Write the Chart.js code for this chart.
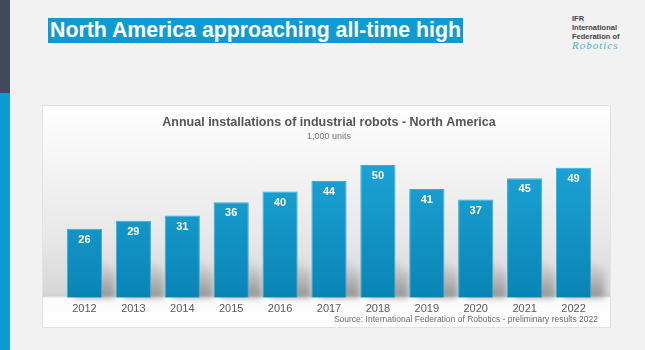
<!DOCTYPE html>
<html>
<head>
<meta charset="utf-8">
<script src="https://cdn.jsdelivr.net/npm/chart.js@4"></script>
<style>
  body { margin: 0; width: 645px; height: 350px; background: #f2f2f2; position: relative; overflow: hidden; font-family: "Liberation Sans", Arial, sans-serif; }
  #bar-dark { position: absolute; left: 0; top: 0; width: 10px; height: 93px; background: #3e4a5b; }
  #bar-blue { position: absolute; left: 0; top: 93px; width: 10px; height: 257px; background: #0e9bcf; }
  #headline { position: absolute; left: 48px; top: 18px; height: 25px; line-height: 25px; padding: 0 2px; background: #0f9bcf; color: #fff; font-weight: bold; font-size: 21.3px; white-space: nowrap; }
  #logo { position: absolute; left: 572px; top: 14px; font-size: 7.5px; line-height: 9px; font-weight: bold; color: #444; }
  #logo .rob { font-family: "Liberation Serif", serif; font-style: italic; font-weight: normal; font-size: 11px; color: #4bb3cc; letter-spacing: 1px; }
  #panel { position: absolute; left: 43px; top: 106px; width: 567px; height: 221px; box-shadow: 0 0 0 1px #e2e2e2;
    background: linear-gradient(to bottom, #ffffff 0px, #f6f6f6 50px, #e8e8e8 130px, #d8d8d8 185px, #d0d0d0 190px, #fbfbfb 192px, #ffffff 221px); }
  #panel canvas { display: block; }
  #source { position: absolute; right: 12px; top: 208px; font-size: 8.5px; color: #6a6a6a; white-space: nowrap; }
</style>
</head>
<body>
<div id="bar-dark"></div>
<div id="bar-blue"></div>
<div id="headline">North America approaching all-time high</div>
<div id="logo">IFR<br>International<br>Federation of<br><span class="rob">Robotics</span></div>
<div id="panel">
  <canvas id="chart" width="567" height="221"></canvas>
</div>
<script>
const years = ['2012', '2013', '2014', '2015', '2016', '2017', '2018', '2019', '2020', '2021', '2022'];
const installs = [26, 29, 31, 36, 40, 44, 50, 41, 37, 45, 49];

const panel = document.querySelector('#panel');
const source = document.createElement('div');
source.id = 'source';
source.textContent = 'Source: International Federation of Robotics - preliminary results 2022';

const barShadows = {
    id: 'barShadows',
    beforeDatasetsDraw(chart) {
        const ctx = chart.ctx;
        const base = chart.scales.y.getPixelForValue(0);
        chart.getDatasetMeta(0).data.forEach(bar => {
            const right = bar.x + bar.width / 2;
            const left = bar.x - bar.width / 2;
            const g = ctx.createLinearGradient(0, base - 40, 0, base);
            g.addColorStop(0, 'rgba(120,120,120,0)');
            g.addColorStop(1, 'rgba(100,100,100,0.6)');
            ctx.save();
            ctx.filter = 'blur(3px)';
            ctx.fillStyle = g;
            ctx.beginPath();
            ctx.moveTo(left + 8, base);
            ctx.lineTo(right + 13, base);
            ctx.lineTo(right + 13, base - 26);
            ctx.lineTo(right, base - 38);
            ctx.lineTo(left + 8, base - 38);
            ctx.closePath();
            ctx.fill();
            ctx.restore();
        });
    }
};

const valueLabels = {
    id: 'valueLabels',
    afterDatasetsDraw(chart) {
        const ctx = chart.ctx;
        ctx.save();
        ctx.fillStyle = '#ffffff';
        ctx.font = 'bold 11px "Liberation Sans", Arial, sans-serif';
        ctx.textAlign = 'center';
        ctx.textBaseline = 'middle';
        chart.getDatasetMeta(0).data.forEach((bar, i) => {
            ctx.fillText(installs[i], bar.x, bar.y + 11);
        });
        ctx.restore();
    }
};

new Chart(document.querySelector('#chart').getContext('2d'), {
    type: 'bar',
    data: {
        labels: years,
        datasets: [{
            data: installs,
            backgroundColor: ctx => {
                const area = ctx.chart.chartArea;
                if (!area) return '#0e9bcf';
                const g = ctx.chart.ctx.createLinearGradient(0, area.top, 0, area.bottom);
                g.addColorStop(0, '#1ea5d8');
                g.addColorStop(1, '#0985b5');
                return g;
            },
            borderColor: '#3aaed9',
            borderWidth: 1,
            barPercentage: 0.72,
            categoryPercentage: 1
        }]
    },
    options: {
        responsive: false,
        animation: false,
        layout: { padding: { left: 17, right: 12, top: 0, bottom: 6 } },
        plugins: {
            legend: { display: false },
            tooltip: { enabled: false },
            title: {
                display: true,
                text: 'Annual installations of industrial robots - North America',
                color: '#555555',
                font: { family: '"Liberation Sans", Arial, sans-serif', size: 12.5, weight: 'bold' },
                padding: { top: 9, bottom: 0 }
            },
            subtitle: {
                display: true,
                text: '1,000 units',
                color: '#777777',
                font: { family: '"Liberation Sans", Arial, sans-serif', size: 9 },
                padding: { top: 1, bottom: 10 }
            }
        },
        scales: {
            y: { display: false, min: 0, max: 55 },
            x: {
                grid: { display: false, drawTicks: false },
                border: { display: false },
                ticks: { color: '#595959', padding: 5, font: { family: '"Liberation Sans", Arial, sans-serif', size: 11 } }
            }
        }
    },
    plugins: [barShadows, valueLabels]
});

panel.appendChild(source);
</script>
</body>
</html>
